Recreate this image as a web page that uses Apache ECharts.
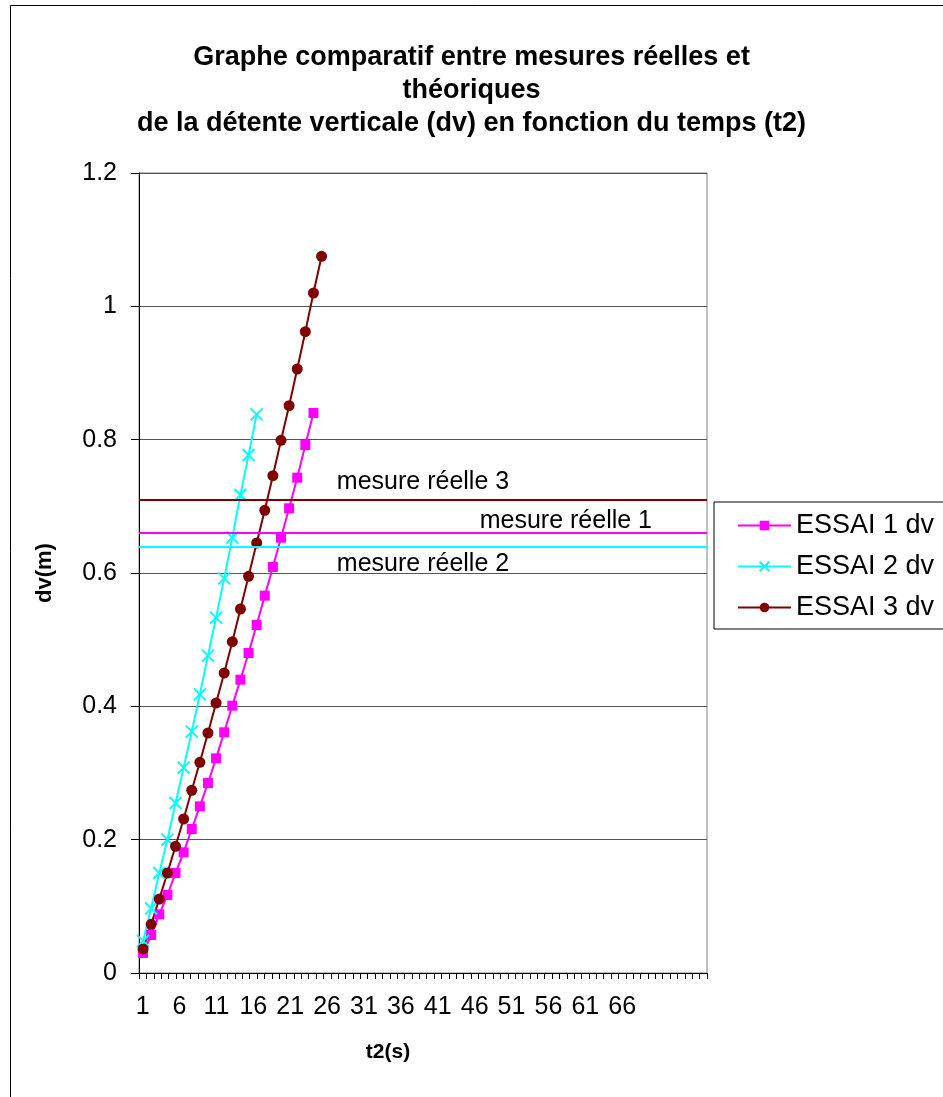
<!DOCTYPE html>
<html>
<head>
<meta charset="utf-8">
<script src="https://cdn.jsdelivr.net/npm/echarts@6/dist/echarts.min.js"></script>
<style>
html,body{margin:0;padding:0;background:#fff;}
#chart{width:943px;height:1097px;}
</style>
</head>
<body>
<div id="chart"></div>
<script>
// ---- data ----
// displayed category axis: 1..70 followed by empty category cells
var axisCategories = [];
for (var i = 1; i <= 70; i++) axisCategories.push(String(i));
for (var j = 0; j < 7; j++) axisCategories.push('');
// categories of the measured series
var seriesCategories = [];
for (var k = 1; k <= 70; k++) seriesCategories.push(String(k));
var essai1 = [0.03, 0.057, 0.088, 0.117, 0.15, 0.181, 0.216, 0.25, 0.285, 0.322, 0.361, 0.401, 0.44, 0.48, 0.522, 0.566, 0.609, 0.653, 0.697, 0.743, 0.792, 0.84];
var essai2 = [0.048, 0.097, 0.15, 0.2, 0.255, 0.308, 0.362, 0.418, 0.476, 0.533, 0.592, 0.653, 0.717, 0.777, 0.838];
var essai3 = [0.036, 0.073, 0.111, 0.15, 0.19, 0.231, 0.274, 0.316, 0.36, 0.405, 0.45, 0.497, 0.546, 0.595, 0.645, 0.694, 0.746, 0.799, 0.851, 0.906, 0.962, 1.02, 1.075];
var mesure1 = 0.664;
var mesure2 = 0.643;
var mesure3 = 0.707;
var seriesNames = ['ESSAI 1 dv', 'ESSAI 2 dv', 'ESSAI 3 dv'];
var mesureLabels = ['mesure réelle 1', 'mesure réelle 2', 'mesure réelle 3'];
var titleText = 'Graphe comparatif entre mesures réelles et\nthéoriques\nde la détente verticale (dv) en fonction du temps (t2)';

var FONT = '"Liberation Sans", Arial, sans-serif';
var chart = echarts.init(document.getElementById('chart'), null, {renderer: 'canvas'});

function mk(value, color, label, pos, dist) {
  return {
    silent: true,
    symbol: 'none',
    lineStyle: {color: color, width: 2, type: 'solid'},
    label: {show: true, formatter: label, position: pos, distance: dist,
            color: '#000', fontSize: 25, fontFamily: FONT},
    data: [{yAxis: value}]
  };
}

var option = {
  backgroundColor: '#fff',
  animation: false,
  title: {
    text: titleText,
    left: 'center',
    top: 36,
    padding: [5, 5, 5, 16],
    textStyle: {fontFamily: FONT, fontSize: 27, fontWeight: 'bold', color: '#000', lineHeight: 33}
  },
  graphic: [
    {type: 'rect', shape: {x: 10.5, y: 5.5, width: 940, height: 1100},
     style: {fill: 'none', stroke: '#000', lineWidth: 1}, silent: true},
    {type: 'text', x: 388, y: 1052,
     style: {text: 't2(s)', font: 'bold 21px ' + FONT, fill: '#000', textAlign: 'center', textVerticalAlign: 'middle'}}
  ],
  legend: {
    orient: 'vertical',
    left: 714,
    top: 502,
    itemWidth: 53,
    itemHeight: 12,
    itemGap: 14,
    padding: [10, 10, 8, 23],
    borderColor: '#000',
    borderWidth: 1,
    textStyle: {fontFamily: FONT, fontSize: 27, color: '#000'},
    data: seriesNames
  },
  grid: {left: 139, right: 236, top: 173, bottom: 124, show: true, borderColor: '#808080', borderWidth: 1},
  xAxis: [
    {
      type: 'category',
      data: axisCategories,
      boundaryGap: true,
      axisLine: {lineStyle: {color: '#000', width: 1}},
      axisTick: {show: true, interval: 0, length: 6, lineStyle: {color: '#000'}},
      axisLabel: {interval: 4, margin: 22, fontSize: 25, color: '#000', fontFamily: FONT},
      splitLine: {show: false}
    },
    {
      type: 'category',
      data: seriesCategories,
      boundaryGap: true,
      position: 'bottom',
      show: false
    }
  ],
  yAxis: {
    type: 'value',
    min: 0, max: 1.2, interval: 0.2,
    name: 'dv(m)',
    nameLocation: 'middle',
    nameGap: 83,
    nameRotate: 90,
    nameTextStyle: {fontFamily: FONT, fontSize: 22, fontWeight: 'bold', color: '#000'},
    axisLine: {show: true, lineStyle: {color: '#000', width: 1}},
    axisTick: {show: true, length: 8, lineStyle: {color: '#000'}},
    axisLabel: {margin: 22, fontSize: 25, color: '#000', fontFamily: FONT,
                formatter: function (v) { return String(+v.toFixed(1)); }},
    splitLine: {show: true, lineStyle: {color: '#555', width: 1}}
  },
  series: [
    {
      name: seriesNames[0], type: 'line', data: essai1, xAxisIndex: 1,
      symbol: 'rect', symbolSize: 10, showAllSymbol: true,
      lineStyle: {color: '#FF00FF', width: 2},
      itemStyle: {color: '#FF00FF'},
      markLine: mk(mesure1, '#FF00FF', mesureLabels[0], 'insideEndTop', [55, -1]),
      z: 3
    },
    {
      name: seriesNames[1], type: 'line', data: essai2, xAxisIndex: 1,
      symbol: 'path://M0,0L10,10M10,0L0,10', symbolSize: 12, showAllSymbol: true,
      lineStyle: {color: '#00FFFF', width: 2},
      itemStyle: {color: '#00FFFF', borderColor: '#00FFFF', borderWidth: 2},
      markLine: mk(mesure2, '#00FFFF', mesureLabels[1], 'insideMiddleBottom', 5),
      z: 3
    },
    {
      name: seriesNames[2], type: 'line', data: essai3, xAxisIndex: 1,
      symbol: 'circle', symbolSize: 11, showAllSymbol: true,
      lineStyle: {color: '#800000', width: 2},
      itemStyle: {color: '#800000'},
      markLine: mk(mesure3, '#800000', mesureLabels[2], 'insideMiddleTop', 5),
      z: 3
    }
  ]
};
chart.setOption(option);
</script>
</body>
</html>
